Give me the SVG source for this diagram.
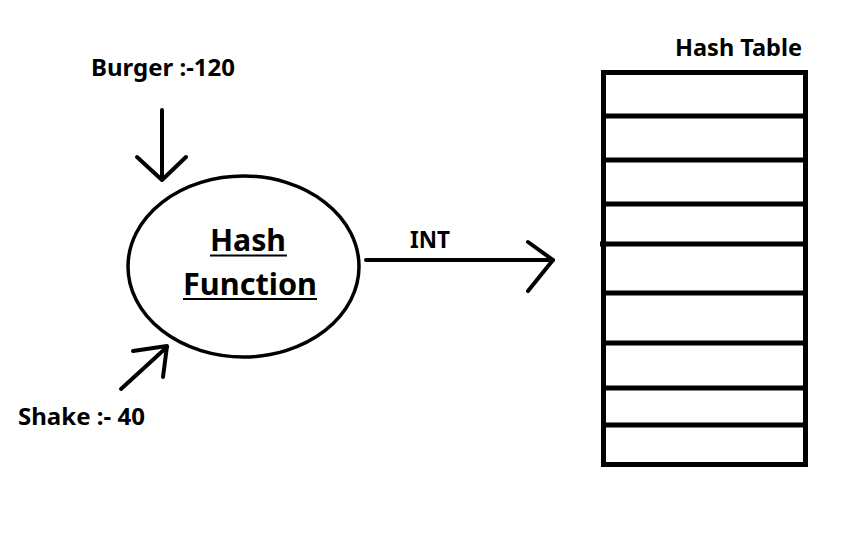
<svg xmlns="http://www.w3.org/2000/svg" width="858" height="548" viewBox="0 0 858 548">
<style>
.t{font-family:"Noto Sans","Open Sans","Liberation Sans",sans-serif;font-weight:bold;fill:#000}
.s{fill:none;stroke:#000;stroke-linecap:round;stroke-linejoin:round}
</style>
<rect width="858" height="548" fill="#fff"/>
<g id="burger">
<text class="t" x="91" y="76" font-size="23" textLength="144" lengthAdjust="spacingAndGlyphs">Burger :-120</text>
</g>
<g id="shake">
<text class="t" x="18" y="425" font-size="23" textLength="127" lengthAdjust="spacingAndGlyphs">Shake :- 40</text>
</g>
<g id="hash-function">
<ellipse cx="243.5" cy="266.5" rx="115.5" ry="90.5" class="s" stroke-width="3.5"/>
<text class="t" x="248" y="251" font-size="31" text-anchor="middle" textLength="76" lengthAdjust="spacingAndGlyphs">Hash</text>
<line x1="210" y1="255.5" x2="287" y2="255.5" stroke="#000" stroke-width="2"/>
<text class="t" x="250" y="295" font-size="31" text-anchor="middle" textLength="134" lengthAdjust="spacingAndGlyphs">Function</text>
<line x1="183" y1="299" x2="317" y2="299" stroke="#000" stroke-width="2"/>
</g>
<g id="hash-table">
<text class="t" x="675" y="56" font-size="23" textLength="127" lengthAdjust="spacingAndGlyphs">Hash Table</text>
<rect x="603.5" y="72.5" width="202" height="392" fill="none" stroke="#000" stroke-width="5"/>
<g stroke="#000" stroke-width="5">
<line x1="603" y1="116" x2="806" y2="116"/>
<line x1="603" y1="160" x2="806" y2="160"/>
<line x1="603" y1="204" x2="806" y2="204"/>
<line x1="600" y1="244" x2="806" y2="244"/>
<line x1="603" y1="293" x2="803" y2="293"/>
<line x1="603" y1="343" x2="806" y2="343"/>
<line x1="603" y1="388" x2="806" y2="388"/>
<line x1="606" y1="425" x2="806" y2="425"/>
</g>
</g>
<g id="connectors">
<line x1="162" y1="110" x2="162" y2="178" class="s" stroke-width="4"/>
<polyline points="137,157 162,180 186,157" class="s" stroke-width="4"/>
<line x1="121" y1="389" x2="167" y2="347" class="s" stroke-width="4"/>
<polyline points="133,351 167,346 163,377" class="s" stroke-width="4"/>
<line x1="366" y1="260" x2="553" y2="260" class="s" stroke-width="4"/>
<polyline points="528,242 553,260 528,291" class="s" stroke-width="4"/>
<text class="t" x="410" y="248" font-size="23" textLength="40" lengthAdjust="spacingAndGlyphs">INT</text>
</g>
</svg>
